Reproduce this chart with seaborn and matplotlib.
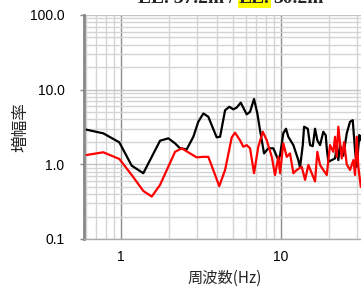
import numpy as np
import pandas as pd
import seaborn as sns
import matplotlib
matplotlib.use("Agg")
from matplotlib import pyplot as plt
from matplotlib.ticker import LogLocator, NullFormatter, FixedLocator, FixedFormatter

sns.set_style("white")
plt.rcParams['font.family'] = ['Liberation Sans', 'Noto Sans CJK JP', 'DejaVu Sans']

# ---------------- data
freq_black = [0.596, 0.775, 0.976, 1.166, 1.378, 1.753, 1.976, 2.175, 2.337, 2.574,
              2.831, 3.04, 3.27, 3.51, 3.96, 4.16, 4.47, 4.75, 5.03, 5.28,
              5.60, 5.77, 6.1, 6.4, 6.78, 7.11, 7.39, 7.83, 8.33, 8.95,
              9.62, 9.86, 10.33, 10.74, 11.1, 11.94, 12.82, 13.14, 13.67, 13.93,
              14.69, 15.18, 15.78, 16.31, 16.86, 17.53, 18.37, 19.02, 19.31, 19.76,
              20.74, 21.75, 22.29, 22.80, 23.37, 24.49, 25.74, 26.98, 28.05, 29.0,
              29.72, 30.85, 31.62]
amp_black = [2.94, 2.6, 1.97, 0.96, 0.76, 2.07, 2.23, 1.91, 1.64, 1.59,
             2.34, 3.72, 4.8, 4.34, 2.3, 2.34, 5.3, 5.9, 5.45, 5.75,
             6.7, 5.9, 4.67, 5.05, 7.5, 4.8, 2.88, 1.4, 1.64, 1.64,
             1.14, 1.33, 2.6, 3.0, 2.34, 1.81, 1.14, 0.91, 1.81, 3.19,
             3.0, 1.81, 1.75, 3.0, 2.1, 1.81, 2.73, 2.45, 1.64, 1.08,
             1.14, 1.2, 1.75, 1.14, 1.81, 1.3, 2.6, 3.72, 3.9, 1.55,
             0.93, 2.47, 2.1]

freq_red = [0.604, 0.775, 0.976, 1.166, 1.378, 1.556, 1.753, 2.175, 2.395, 2.70,
            2.97, 3.27, 3.51, 3.77, 4.11, 4.47, 4.92, 5.16, 5.54, 5.81,
            6.1, 6.4, 6.78, 7.21, 7.69, 8.14, 8.75, 9.17, 9.62, 9.86,
            10.33, 10.86, 11.38, 11.94, 12.53, 13.46, 14.13, 14.82, 15.55, 16.31,
            16.86, 17.53, 18.37, 19.31, 20.23, 21.23, 21.75, 22.29, 22.80, 23.37,
            23.94, 24.77, 25.74, 26.98, 28.31, 29.0, 29.72, 30.41, 31.5]
amp_red = [1.33, 1.45, 1.18, 0.72, 0.44, 0.37, 0.53, 1.47, 1.64, 1.40,
           1.24, 1.26, 1.26, 0.84, 0.51, 0.84, 2.3, 2.65, 2.1, 1.72,
           1.81, 1.64, 0.76, 1.72, 2.73, 2.1, 1.26, 0.72, 1.26, 0.76,
           1.91, 1.26, 1.4, 0.76, 0.84, 0.93, 0.62, 0.98, 0.76, 0.59,
           1.47, 0.98, 0.84, 0.72, 1.81, 1.47, 2.34, 1.26, 3.19, 1.91,
           1.2, 1.98, 1.0, 0.84, 1.14, 0.72, 2.34, 0.93, 0.5]

yticks = [0.1, 1.0, 10.0, 100.0]
yticklabels = ["0.1", "1.0", "10.0", "100.0"]
xticks = [1, 10]
xticklabels = ["1", "10"]

df = pd.concat([
    pd.DataFrame({"freq": freq_black, "amp": amp_black, "loc": "upper"}),
    pd.DataFrame({"freq": freq_red, "amp": amp_red, "loc": "lower"}),
])

# ---------------- figure
fh = plt.figure(figsize=(3.61, 2.87), dpi=100)
ah = fh.add_axes([84/361, 48/287, 277/361, 224/287])
ah.set_xscale("log")
ah.set_yscale("log")

# grid
ah.set_axisbelow(True)
ah.xaxis.set_minor_locator(LogLocator(base=10, subs=np.arange(2, 10)))
ah.yaxis.set_minor_locator(LogLocator(base=10, subs=np.arange(2, 10)))
ah.xaxis.set_minor_formatter(NullFormatter())
ah.yaxis.set_minor_formatter(NullFormatter())
ah.grid(which="minor", axis="both", color="#d4d4d4", linewidth=1.0)
ah.grid(which="major", axis="y", color="#c4c4c4", linewidth=1.0)
ah.grid(which="major", axis="x", color="#8c8c8c", linewidth=1.0)

sns.lineplot(data=df, x="freq", y="amp", hue="loc", palette={"upper": "black", "lower": "#ff0000"},
             estimator=None, sort=False, linewidth=1.6, legend=False, ax=ah)

ah.set_xlim(0.587, 31.6)
ah.set_ylim(0.1, 100)
ah.yaxis.set_major_locator(FixedLocator(yticks))
ah.yaxis.set_major_formatter(FixedFormatter(yticklabels))
ah.xaxis.set_major_locator(FixedLocator(xticks))
ah.xaxis.set_major_formatter(FixedFormatter(xticklabels))
ah.tick_params(axis="y", which="major", left=True, length=3, width=1, color="#888888",
               labelsize=10, pad=11, labelcolor="black")
ah.tick_params(axis="y", which="minor", left=False, length=0)
ah.tick_params(axis="x", which="both", bottom=False, length=0, labelsize=10, pad=8, labelcolor="black")

for s in ["top", "right"]:
    ah.spines[s].set_visible(False)
ah.spines["left"].set_color("#888888")
ah.spines["left"].set_linewidth(2)
ah.spines["bottom"].set_color("#aaaaaa")
ah.spines["bottom"].set_linewidth(1)

ah.set_xlabel("周波数(Hz)", fontsize=11, family=['Noto Sans CJK JP', 'DejaVu Sans'])
ah.set_ylabel("増幅率", fontsize=12, family=['Noto Sans CJK JP', 'DejaVu Sans'])
ah.xaxis.set_label_coords((225 - 84) / 277, -(270 - 239) / 224)
ah.yaxis.set_label_coords(-(84 - 29) / 277, 0.5)

# clipped title at the top
tfont = dict(family="Liberation Serif", weight="bold", fontsize=14, va="baseline")
fh.text(138/361, 1 - 3/287, "EL. 37.2m /", **tfont)
fh.text(239/361, 1 - 3/287, "EL.", bbox=dict(facecolor="#ffff00", edgecolor="none", pad=1), **tfont)
fh.text(273/361, 1 - 3/287, "30.2m", **tfont)

fh.savefig("out.png", dpi=100)
